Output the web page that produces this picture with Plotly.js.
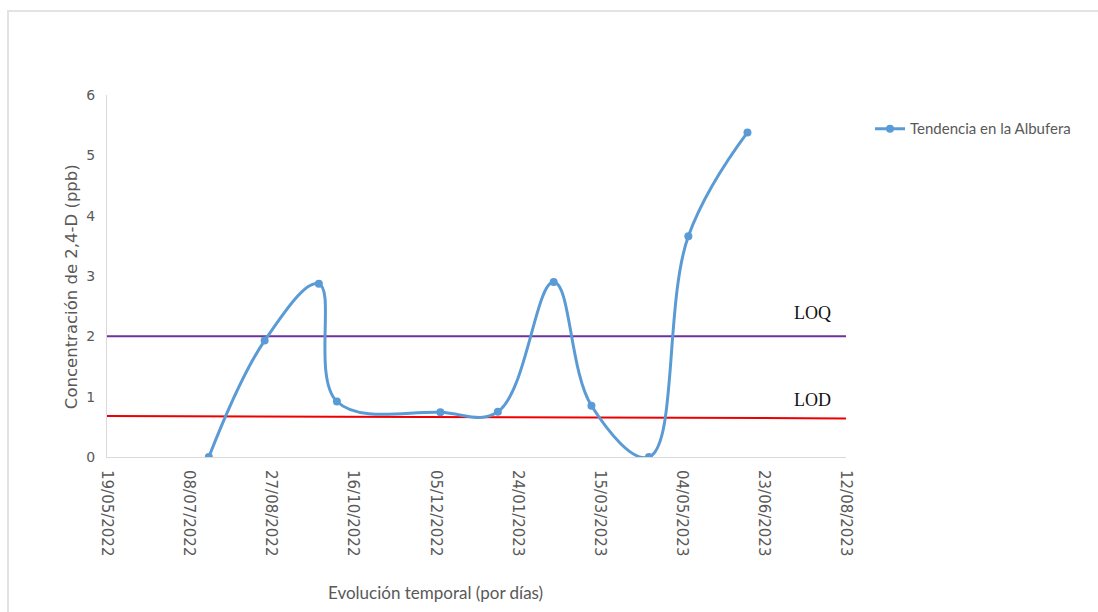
<!DOCTYPE html>
<html>
<head>
<meta charset="utf-8">
<script src="https://cdn.plot.ly/plotly-3.0.1.min.js"></script>
<style>
  html, body { margin: 0; padding: 0; background: #ffffff; }
  #wrap { position: relative; width: 1098px; height: 612px; overflow: hidden; }
  #chart { position: absolute; left: 0; top: 0; width: 1098px; height: 612px; }
  #frame { position: absolute; left: 7px; top: 10px; width: 1200px; height: 700px;
           border-top: 2px solid #e3e3e3; border-left: 2px solid #e3e3e3; pointer-events: none; }
</style>
</head>
<body>
<div id="wrap">
  <div id="chart"></div>
  <div id="frame"></div>
</div>
<script>
// Sampling dates and 2,4-D concentrations (ppb) measured in the Albufera
const sampleDates = [
  '2022-07-20', '2022-08-23', '2022-09-25', '2022-10-06', '2022-12-08',
  '2023-01-12', '2023-02-15', '2023-03-10', '2023-04-14', '2023-05-08', '2023-06-13'
];
const concentration = [0, 1.93, 2.87, 0.92, 0.74, 0.75, 2.90, 0.85, 0, 3.66, 5.38];

// Quantification and detection limits, drawn across the full time span
const limitDates = ['2022-05-19', '2023-08-13'];
const loqValues = [2.0, 2.0];
const lodValues = [0.68, 0.64];

// Axis settings
const xStart = '2022-05-19';
const xEnd = '2023-08-12';
const tickStepDays = 50;
const yTicks = [0, 1, 2, 3, 4, 5, 6];

const blue = '#5b9bd5';
const grey = '#595959';

const traces = [
  {
    x: limitDates, y: loqValues, mode: 'lines', showlegend: false, hoverinfo: 'skip',
    line: { color: '#7030a0', width: 2 }
  },
  {
    x: limitDates, y: lodValues, mode: 'lines', showlegend: false, hoverinfo: 'skip',
    line: { color: '#ee0000', width: 2 }
  },
  {
    x: sampleDates, y: concentration, mode: 'lines+markers',
    name: 'Tendencia en la Albufera',
    line: { color: blue, width: 3, shape: 'spline', smoothing: 1.1 },
    marker: { color: blue, size: 8 }
  }
];

const layout = {
  width: 1098, height: 612,
  margin: { l: 107, r: 252, t: 94.5, b: 154.5 },
  paper_bgcolor: '#ffffff', plot_bgcolor: '#ffffff',
  showlegend: true,
  legend: {
    x: 1.0325, y: 0.952, xanchor: 'left', yanchor: 'top',
    font: { family: 'Lato, sans-serif', size: 15, color: grey },
    bgcolor: 'rgba(0,0,0,0)'
  },
  xaxis: {
    type: 'date',
    range: [xStart, xEnd],
    tick0: xStart,
    dtick: tickStepDays * 86400000,
    tickformat: '%d/%m/%Y',
    tickangle: 90,
    tickfont: { family: 'DejaVu Sans, sans-serif', size: 15, color: grey },
    showgrid: false, zeroline: false,
    showline: true, linecolor: '#d9d9d9', linewidth: 1,
    ticks: '', ticklabelstandoff: 9
  },
  yaxis: {
    range: [0, 6],
    tickvals: yTicks,
    tickfont: { family: 'DejaVu Sans, sans-serif', size: 14, color: grey },
    showgrid: false, zeroline: false,
    showline: true, linecolor: '#d9d9d9', linewidth: 1,
    ticks: '', ticklabelstandoff: 8
  },
  annotations: [
    {
      text: 'Concentración de 2,4-D (ppb)', textangle: -90,
      xref: 'paper', yref: 'paper', x: -0.047, y: 0.47,
      xanchor: 'center', yanchor: 'middle', showarrow: false,
      font: { family: 'DejaVu Sans, sans-serif', size: 16.5, color: grey }
    },
    {
      text: 'Evolución temporal (por días)',
      xref: 'paper', yref: 'paper', x: 0.444, y: -0.375,
      xanchor: 'center', yanchor: 'middle', showarrow: false,
      font: { family: 'Lato, sans-serif', size: 17, color: grey }
    },
    {
      text: 'LOQ', xref: 'paper', yref: 'paper', x: 0.954, y: 0.398,
      xanchor: 'center', yanchor: 'middle', showarrow: false,
      font: { family: 'Liberation Serif, serif', size: 18, color: '#111111' }
    },
    {
      text: 'LOD', xref: 'paper', yref: 'paper', x: 0.954, y: 0.158,
      xanchor: 'center', yanchor: 'middle', showarrow: false,
      font: { family: 'Liberation Serif, serif', size: 18, color: '#111111' }
    }
  ]
};

Plotly.newPlot('chart', traces, layout, { displayModeBar: false, staticPlot: true });
</script>
</body>
</html>
